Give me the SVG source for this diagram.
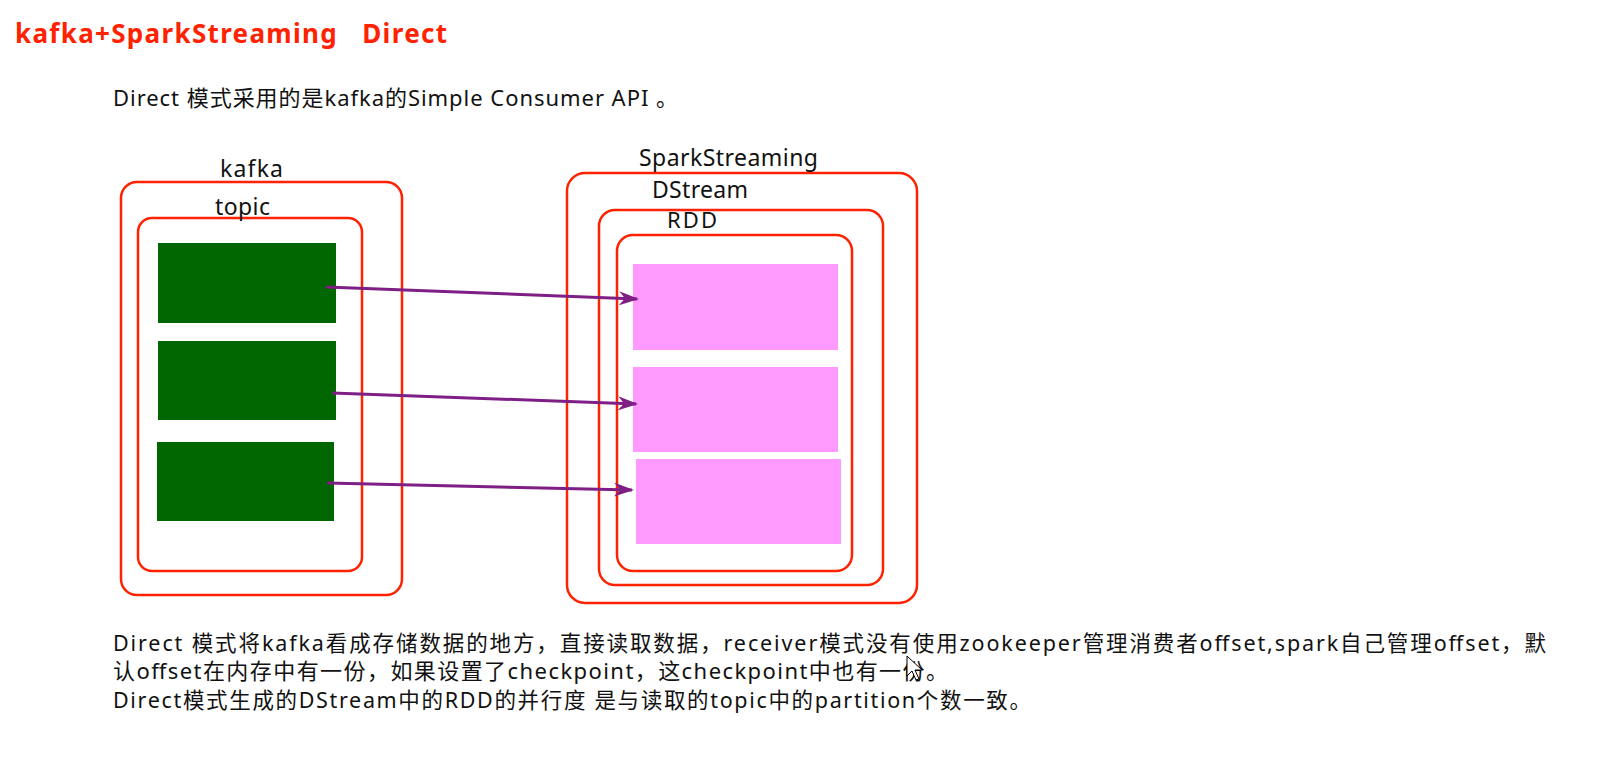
<svg xmlns="http://www.w3.org/2000/svg" width="1598" height="762" viewBox="0 0 1598 762">
<defs>
<style>
.t{font-family:"Noto Sans","Noto Sans CJK SC",sans-serif;fill:#111}
.box{fill:none;stroke:#FF2200;stroke-width:2.5}
.g{fill:#006600}
.p{fill:#FF99FF}
.c{stroke:#7F1F86;stroke-width:3;fill:none;marker-end:url(#ah)}
</style>
<marker id="ah" viewBox="0 0 20 14" refX="18" refY="7" markerWidth="20" markerHeight="14" markerUnits="userSpaceOnUse" orient="auto">
<path d="M0,0 L20,7 L0,14 L6,7 Z" fill="#7F1F86"/>
</marker>
</defs>
<rect width="1598" height="762" fill="#fff"/>
<text class="t" x="15" y="43" font-size="26" font-weight="bold" style="fill:#FF2200" textLength="432" xml:space="preserve">kafka+SparkStreaming   Direct</text>
<text class="t" x="113" y="106" font-size="22" textLength="565">Direct 模式采用的是kafka的Simple Consumer API 。</text>
<g id="kafka">
<rect class="box" x="121" y="182" width="281" height="413" rx="16"/>
<text class="t" x="220" y="177" font-size="23" textLength="63">kafka</text>
</g>
<g id="topic">
<rect class="box" x="138" y="218" width="224" height="353" rx="14"/>
<text class="t" x="215" y="215" font-size="23" textLength="55">topic</text>
</g>
<g id="partition1"><rect class="g" x="158" y="243" width="178" height="80"/></g>
<g id="partition2"><rect class="g" x="158" y="341" width="178" height="79"/></g>
<g id="partition3"><rect class="g" x="157" y="442" width="177" height="79"/></g>
<g id="sparkstreaming">
<rect class="box" x="567" y="173" width="350" height="430" rx="18"/>
<text class="t" x="639" y="166" font-size="23" textLength="179">SparkStreaming</text>
</g>
<g id="dstream">
<rect class="box" x="599" y="210" width="284" height="375" rx="16"/>
<text class="t" x="652" y="198" font-size="23" textLength="96">DStream</text>
</g>
<g id="rdd">
<rect class="box" x="617" y="235" width="235" height="336" rx="16"/>
<text class="t" x="667" y="228" font-size="22" textLength="50">RDD</text>
</g>
<g id="rddpart1"><rect class="p" x="633" y="264" width="205" height="86"/></g>
<g id="rddpart2"><rect class="p" x="633" y="367" width="205" height="85"/></g>
<g id="rddpart3"><rect class="p" x="636" y="459" width="205" height="85"/></g>
<g id="connectors">
<line class="c" x1="326" y1="287" x2="637" y2="299"/>
<line class="c" x1="332" y1="393" x2="636" y2="404"/>
<line class="c" x1="327" y1="483" x2="632" y2="490"/>
</g>
<text class="t" x="113" y="651" font-size="21.5" textLength="1433">Direct 模式将kafka看成存储数据的地方，直接读取数据，receiver模式没有使用zookeeper管理消费者offset,spark自己管理offset，默</text>
<text class="t" x="113" y="679" font-size="22" textLength="835">认offset在内存中有一份，如果设置了checkpoint，这checkpoint中也有一份。</text>
<text class="t" x="113" y="708" font-size="21.5" textLength="918">Direct模式生成的DStream中的RDD的并行度 是与读取的topic中的partition个数一致。</text>
<path d="M907,656 L907,676 L912,671 L916,680 L919,679 L915,670 L922,670 Z" fill="#fff" stroke="#000" stroke-width="1"/>
</svg>
